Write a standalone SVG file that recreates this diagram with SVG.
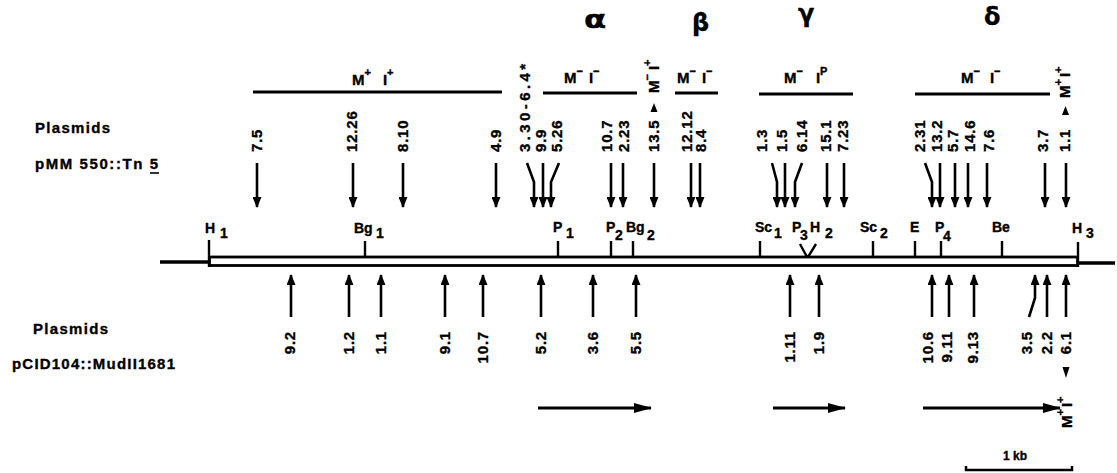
<svg xmlns="http://www.w3.org/2000/svg" width="1117" height="473" viewBox="0 0 1117 473">
<style>
text{font-family:"Liberation Sans",Arial,sans-serif;font-weight:bold;fill:#000;stroke:#000;stroke-width:0.35}
.num{font-size:15px;letter-spacing:0.8px}
.site{font-size:14px}
.geno{font-size:15px}
.sup{font-size:11px}
.greek{font-family:"DejaVu Sans",sans-serif;font-size:24px;font-weight:bold}
.lbl{font-size:15px}
.sh{stroke:#000;stroke-width:2.6;fill:none}
.bar{stroke:#000;stroke-width:3;fill:none}
.tick{stroke:#000;stroke-width:2.4;fill:none}
</style>
<defs>
<marker id="ah" markerUnits="userSpaceOnUse" markerWidth="11" markerHeight="9" refX="10" refY="4.5" orient="auto">
<path d="M0,0 L11,4.5 L0,9 Z" fill="#000"/>
</marker>
<marker id="ahb" markerUnits="userSpaceOnUse" markerWidth="18" markerHeight="10" refX="17" refY="5" orient="auto">
<path d="M0,0 L18,5 L0,10 Z" fill="#000"/>
</marker>
</defs>

<g id="greek">
<text class="greek" transform="translate(584,28) scale(1.35,1)">α</text>
<text class="greek" x="692" y="31">β</text>
<text class="greek" x="798" y="22">γ</text>
<text class="greek" x="984" y="25">δ</text>
</g>

<g id="genotype-bars">
<line class="bar" x1="253" y1="92" x2="502" y2="92"/>
<line class="bar" x1="543" y1="93" x2="637" y2="93"/>
<line class="bar" x1="675" y1="93" x2="718" y2="93"/>
<line class="bar" x1="759" y1="94" x2="853" y2="94"/>
<line class="bar" x1="915" y1="94" x2="1050" y2="94"/>
<text class="geno" x="352" y="85">M<tspan class="sup" dy="-9">+</tspan><tspan dx="12" dy="9">I</tspan><tspan class="sup" dy="-9">+</tspan></text>
<text class="geno" x="564" y="83">M<tspan class="sup" dy="-8">−</tspan><tspan dx="6" dy="8">I</tspan><tspan class="sup" dy="-8">−</tspan></text>
<text class="geno" x="677" y="83">M<tspan class="sup" dy="-8">−</tspan><tspan dx="6" dy="8">I</tspan><tspan class="sup" dy="-8">−</tspan></text>
<text class="geno" x="784" y="83">M<tspan class="sup" dy="-8">−</tspan><tspan dx="13" dy="8">I</tspan><tspan class="sup" dy="-8">P</tspan></text>
<text class="geno" x="961" y="83">M<tspan class="sup" dy="-8">−</tspan><tspan dx="10" dy="8">I</tspan><tspan class="sup" dy="-8">−</tspan></text>
<text class="geno" transform="translate(659,93) rotate(-90)">M<tspan class="sup" dy="-8">−</tspan><tspan dx="4" dy="8">I</tspan><tspan class="sup" dy="-8">+</tspan></text>
<polygon points="650.5,112 654,103 657.5,112" fill="#000"/>
<text class="geno" transform="translate(1070,98) rotate(-90)">M<tspan class="sup" dy="-8">+</tspan><tspan dx="2" dy="8">I</tspan><tspan class="sup" dy="-8">+</tspan></text>
<polygon points="1062,115 1065.5,106 1069,115" fill="#000"/>
</g>

<g id="side-labels">
<text class="lbl" x="35" y="133" textLength="75" lengthAdjust="spacing">Plasmids</text>
<text class="lbl" x="35" y="169" textLength="123" lengthAdjust="spacing">pMM 550::Tn 5</text>
<line x1="150" y1="173" x2="159" y2="173" stroke="#000" stroke-width="1.6"/>
<text class="lbl" x="33" y="334" textLength="75" lengthAdjust="spacing">Plasmids</text>
<text class="lbl" x="12" y="369" textLength="163" lengthAdjust="spacing">pCID104::MudII1681</text>
</g>

<g id="map">
<line x1="160" y1="262" x2="210" y2="262" stroke="#000" stroke-width="3.5"/>
<line x1="1077" y1="263" x2="1115" y2="263" stroke="#000" stroke-width="3.5"/>
<rect x="209.5" y="257" width="868" height="8.5" fill="#fff" stroke="#000" stroke-width="2.8"/>
<g class="tick">
<line x1="209" y1="240" x2="209" y2="267"/>
<line x1="365" y1="241" x2="365" y2="257"/>
<line x1="558" y1="241" x2="558" y2="257"/>
<line x1="611" y1="241" x2="611" y2="257"/>
<line x1="633" y1="241" x2="633" y2="257"/>
<line x1="760" y1="241" x2="760" y2="257"/>
<path d="M800,244 L807,257 M816,244 L808,257"/>
<line x1="873" y1="241" x2="873" y2="257"/>
<line x1="915" y1="241" x2="915" y2="257"/>
<line x1="941" y1="241" x2="941" y2="257"/>
<line x1="1002" y1="241" x2="1002" y2="257"/>
<line x1="1078" y1="242" x2="1078" y2="267"/>
</g>
<g class="site">
<text x="205" y="233">H<tspan x="220" y="238">1</tspan></text>
<text x="354" y="233">Bg<tspan x="376" y="238">1</tspan></text>
<text x="553" y="232">P<tspan x="566" y="238">1</tspan></text>
<text x="606" y="232">P<tspan x="615" y="240">2</tspan></text>
<text x="626" y="232">Bg<tspan x="647" y="240">2</tspan></text>
<text x="755" y="232">Sc<tspan x="774" y="238">1</tspan></text>
<text x="792" y="232">P<tspan x="800" y="240">3</tspan></text>
<text x="810" y="232">H<tspan x="825" y="238">2</tspan></text>
<text x="860" y="232">Sc<tspan x="880" y="238">2</tspan></text>
<text x="910" y="232">E</text>
<text x="935" y="232">P<tspan x="943" y="241">4</tspan></text>
<text x="992" y="232">Be</text>
<text x="1072" y="233">H<tspan x="1086" y="238">3</tspan></text>
</g>
</g>

<g id="connectors">
<g class="sh" marker-end="url(#ah)">
<path d="M257,163 V207"/>
<path d="M353,163 V207"/>
<path d="M403,163 V207"/>
<path d="M496,163 V207"/>
<path d="M527,163 L534,182 V207"/>
<path d="M543,163 V207"/>
<path d="M559,163 L551,182 V207"/>
<path d="M611,163 V207"/>
<path d="M623,163 V207"/>
<path d="M654,163 V207"/>
<path d="M691,163 V207"/>
<path d="M700,163 V207"/>
<path d="M772,163 L777,182 V207"/>
<path d="M785,163 V207"/>
<path d="M802,163 L795,182 V207"/>
<path d="M827,163 V207"/>
<path d="M844,163 V207"/>
<path d="M925,163 L932,182 V207"/>
<path d="M940,163 V207"/>
<path d="M955,163 V207"/>
<path d="M968,163 V207"/>
<path d="M987,163 V207"/>
<path d="M1045,163 V207"/>
<path d="M1066,163 V207"/>
<path d="M291,317 V275"/>
<path d="M349,317 V275"/>
<path d="M381,317 V275"/>
<path d="M445,317 V275"/>
<path d="M483,317 V275"/>
<path d="M541,317 V275"/>
<path d="M593,317 V275"/>
<path d="M636,317 V275"/>
<path d="M790,317 V275"/>
<path d="M819,317 V275"/>
<path d="M932,317 V275"/>
<path d="M949,317 V275"/>
<path d="M974,317 V275"/>
<path d="M1029,317 L1035,298 V275"/>
<path d="M1047,317 V275"/>
<path d="M1066,317 V275"/>
</g>
<g stroke="#000" stroke-width="3.2" fill="none" marker-end="url(#ahb)">
<path d="M538,408 H651"/>
<path d="M773,408 H845"/>
<path d="M923,408 H1060"/>
</g>
</g>

<g id="top-labels" class="num">
<text transform="translate(262,152) rotate(-90)">7.5</text>
<text transform="translate(357,152) rotate(-90)">12.26</text>
<text transform="translate(408,152) rotate(-90)">8.10</text>
<text transform="translate(501,152) rotate(-90)">4.9</text>
<text transform="translate(530,152) rotate(-90)" textLength="89" lengthAdjust="spacing">3.30-6.4*</text>
<text transform="translate(546,152) rotate(-90)">9.9</text>
<text transform="translate(562,152) rotate(-90)">5.26</text>
<text transform="translate(612,152) rotate(-90)">10.7</text>
<text transform="translate(629,152) rotate(-90)">2.23</text>
<text transform="translate(659,152) rotate(-90)">13.5</text>
<text transform="translate(692,152) rotate(-90)">12.12</text>
<text transform="translate(706,152) rotate(-90)">8.4</text>
<text transform="translate(767,152) rotate(-90)">1.3</text>
<text transform="translate(787,152) rotate(-90)">1.5</text>
<text transform="translate(807,152) rotate(-90)">6.14</text>
<text transform="translate(831,152) rotate(-90)">15.1</text>
<text transform="translate(848,152) rotate(-90)">7.23</text>
<text transform="translate(925,152) rotate(-90)">2.31</text>
<text transform="translate(942,152) rotate(-90)">13.2</text>
<text transform="translate(958,152) rotate(-90)">5.7</text>
<text transform="translate(975,152) rotate(-90)">14.6</text>
<text transform="translate(994,152) rotate(-90)">7.6</text>
<text transform="translate(1048,152) rotate(-90)">3.7</text>
<text transform="translate(1070,152) rotate(-90)">1.1</text>
</g>

<g id="bottom-labels" class="num" text-anchor="end">
<text transform="translate(295,331) rotate(-90)">9.2</text>
<text transform="translate(354,331) rotate(-90)">1.2</text>
<text transform="translate(386,331) rotate(-90)">1.1</text>
<text transform="translate(450,331) rotate(-90)">9.1</text>
<text transform="translate(488,331) rotate(-90)">10.7</text>
<text transform="translate(546,331) rotate(-90)">5.2</text>
<text transform="translate(598,331) rotate(-90)">3.6</text>
<text transform="translate(641,331) rotate(-90)">5.5</text>
<text transform="translate(795,331) rotate(-90)">1.11</text>
<text transform="translate(824,331) rotate(-90)">1.9</text>
<text transform="translate(933,331) rotate(-90)">10.6</text>
<text transform="translate(952,331) rotate(-90)">9.11</text>
<text transform="translate(978,331) rotate(-90)">9.13</text>
<text transform="translate(1032,331) rotate(-90)">3.5</text>
<text transform="translate(1052,331) rotate(-90)">2.2</text>
<text transform="translate(1071,331) rotate(-90)">6.1</text>
</g>

<g id="bottom-mark">
<polygon points="1062.5,367 1069.5,367 1066,378" fill="#000"/>
<text class="geno" transform="translate(1072,428) rotate(-90)">M<tspan class="sup" dy="-8">+</tspan><tspan dx="2" dy="8">I</tspan><tspan class="sup" dy="-8">+</tspan></text>
</g>

<g id="scale">
<text x="1003" y="460" style="font-size:12px">1 kb</text>
<path d="M966,466 V470 H1072 V466" stroke="#000" stroke-width="2.5" fill="none"/>
</g>
</svg>
